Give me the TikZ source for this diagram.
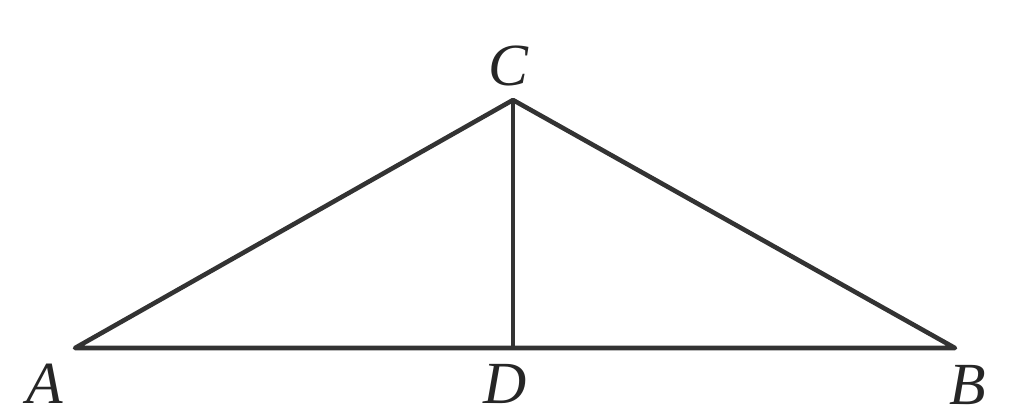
\documentclass[tikz,border=0pt]{standalone}
\usepackage{fontspec}
\setmainfont{Liberation Serif}
\begin{document}
\begin{tikzpicture}[x=0.01cm,y=-0.01cm,
  seg/.style={line width=1.3pt,draw=black!80},
  lbl/.style={font=\fontsize{17}{17}\selectfont\itshape,text=black!85,inner sep=0pt}]
\useasboundingbox (0,0) rectangle (1009,414);
\coordinate (A) at (75,348);
\coordinate (B) at (955,348);
\coordinate (C) at (513,100);
\coordinate (D) at (513,348);
\draw[seg,line join=round] (A) -- (C) -- (B) -- cycle;
\draw[seg] (C) -- (D);
\node[lbl] (lC) at (508,66) {C};
\node[lbl] (lA) at (45,384) {A};
\node[lbl] (lD) at (505,384) {D};
\node[lbl] (lB) at (968,385) {B};
\end{tikzpicture}
\end{document}
